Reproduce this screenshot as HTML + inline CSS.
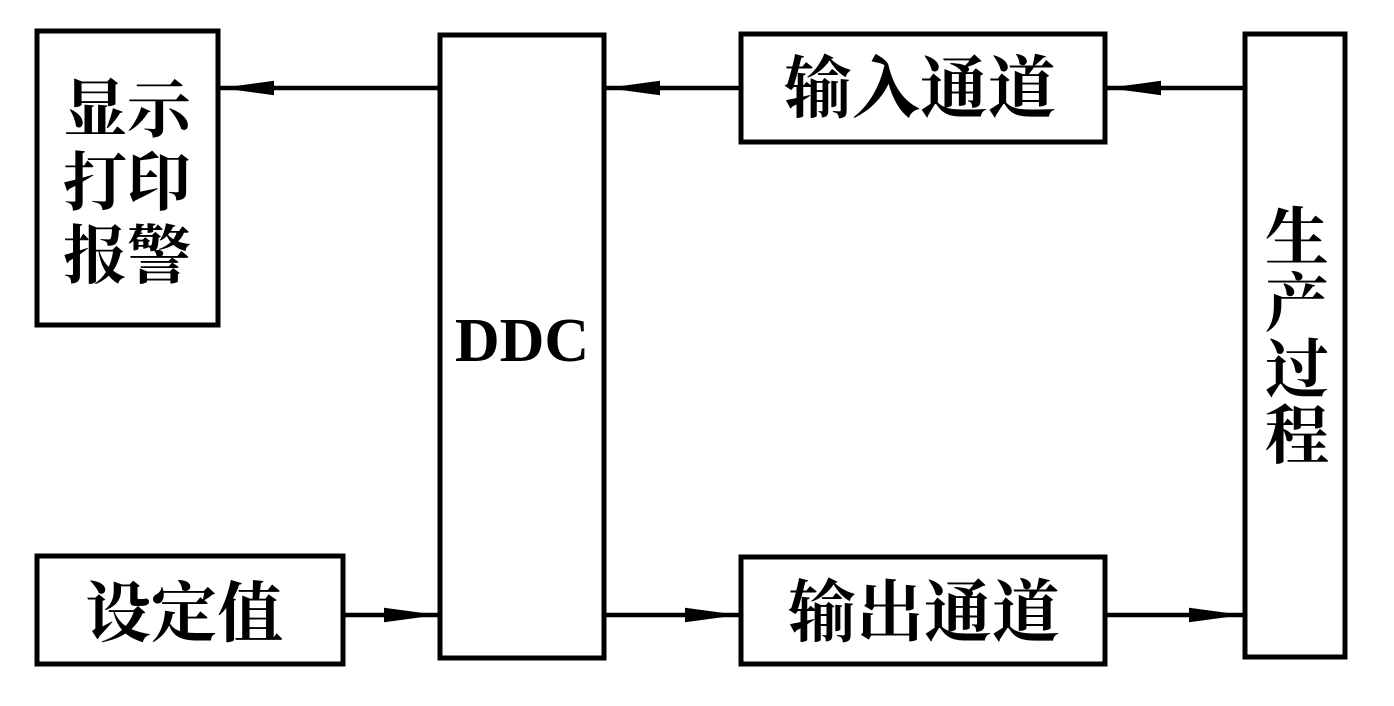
<!DOCTYPE html>
<html><head><meta charset="utf-8"><style>
html,body{margin:0;padding:0;background:#fff;}
svg{display:block;}
.c{font-family:"Liberation Serif","Noto Serif CJK SC",serif;font-weight:bold;fill:#000;}
</style></head><body>
<svg width="1394" height="706" viewBox="0 0 1394 706" xmlns="http://www.w3.org/2000/svg">
<defs>
<marker id="a" markerWidth="12" markerHeight="4" refX="12" refY="2" orient="auto" markerUnits="strokeWidth">
<path d="M0,0.4 L12,2 L0,3.6 Z" fill="#000"/>
</marker>
</defs>
<g fill="none" stroke="#000" stroke-width="5">
<rect x="37" y="31" width="181" height="294"/>
<rect x="440" y="35" width="164" height="623"/>
<rect x="741" y="34" width="364" height="108"/>
<rect x="1245" y="34" width="100" height="623"/>
<rect x="37" y="556" width="306" height="108"/>
<rect x="741" y="557" width="364" height="107"/>
</g>
<g stroke="#000" stroke-width="4.5" marker-end="url(#a)">
<line x1="440" y1="88" x2="220" y2="88"/>
<line x1="741" y1="88" x2="606" y2="88"/>
<line x1="1245" y1="88" x2="1107" y2="88"/>
<line x1="343" y1="615" x2="438" y2="615"/>
<line x1="604" y1="615" x2="739" y2="615"/>
<line x1="1105" y1="615" x2="1243" y2="615"/>
</g>
<g class="c" font-size="64" text-anchor="middle">
<text x="127" y="132">显示</text>
<text x="127" y="205">打印</text>
<text x="127" y="278">报警</text>
<text x="184" y="636" font-size="66">设定值</text>
<text x="920" y="112" font-size="68">输入通道</text>
<text x="924" y="636" font-size="68">输出通道</text>
<text x="1297" y="260">生</text>
<text x="1297" y="326">产</text>
<text x="1297" y="392">过</text>
<text x="1297" y="458">程</text>
<text x="522" y="361" font-size="62">DDC</text>
</g>
</svg>
</body></html>
